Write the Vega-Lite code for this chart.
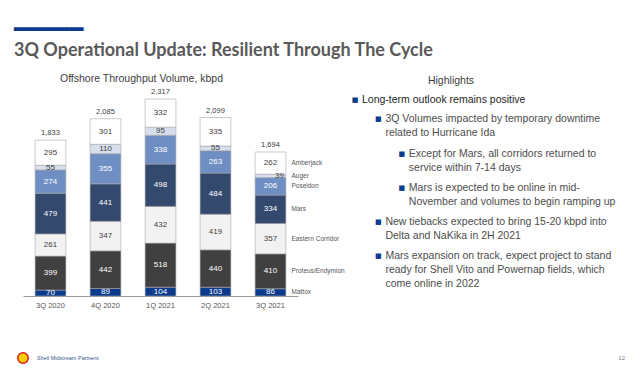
{
  "$schema": "https://vega.github.io/schema/vega-lite/v6.json",
  "background": "white",
  "padding": {"left": 14, "top": 18, "right": 5, "bottom": 5},
  "spacing": 40,
  "config": {"view": {"stroke": null}, "font": "Liberation Sans"},
  "title": {
    "text": "━━━━━",
    "subtitle": "3Q Operational Update: Resilient Through The Cycle",
    "anchor": "start",
    "frame": "group",
    "dx": -9,
    "font": "DejaVu Sans",
    "fontSize": 23,
    "lineHeight": 14,
    "fontWeight": "normal",
    "color": "#0b3b8c",
    "subtitleFont": "Lato",
    "subtitleFontSize": 18,
    "subtitleFontWeight": "bold",
    "subtitleColor": "#595959",
    "subtitlePadding": 0,
    "offset": 14
  },
  "datasets": {
    "volumes": [
      {"q": "3Q 2020", "seg": "Mattox", "k": 1, "v": 70},
      {"q": "3Q 2020", "seg": "Proteus/Endymion", "k": 2, "v": 399},
      {"q": "3Q 2020", "seg": "Eastern Corridor", "k": 3, "v": 261},
      {"q": "3Q 2020", "seg": "Mars", "k": 4, "v": 479},
      {"q": "3Q 2020", "seg": "Poseidon", "k": 5, "v": 274},
      {"q": "3Q 2020", "seg": "Auger", "k": 6, "v": 55},
      {"q": "3Q 2020", "seg": "Amberjack", "k": 7, "v": 295},
      {"q": "4Q 2020", "seg": "Mattox", "k": 1, "v": 89},
      {"q": "4Q 2020", "seg": "Proteus/Endymion", "k": 2, "v": 442},
      {"q": "4Q 2020", "seg": "Eastern Corridor", "k": 3, "v": 347},
      {"q": "4Q 2020", "seg": "Mars", "k": 4, "v": 441},
      {"q": "4Q 2020", "seg": "Poseidon", "k": 5, "v": 355},
      {"q": "4Q 2020", "seg": "Auger", "k": 6, "v": 110},
      {"q": "4Q 2020", "seg": "Amberjack", "k": 7, "v": 301},
      {"q": "1Q 2021", "seg": "Mattox", "k": 1, "v": 104},
      {"q": "1Q 2021", "seg": "Proteus/Endymion", "k": 2, "v": 518},
      {"q": "1Q 2021", "seg": "Eastern Corridor", "k": 3, "v": 432},
      {"q": "1Q 2021", "seg": "Mars", "k": 4, "v": 498},
      {"q": "1Q 2021", "seg": "Poseidon", "k": 5, "v": 338},
      {"q": "1Q 2021", "seg": "Auger", "k": 6, "v": 95},
      {"q": "1Q 2021", "seg": "Amberjack", "k": 7, "v": 332},
      {"q": "2Q 2021", "seg": "Mattox", "k": 1, "v": 103},
      {"q": "2Q 2021", "seg": "Proteus/Endymion", "k": 2, "v": 440},
      {"q": "2Q 2021", "seg": "Eastern Corridor", "k": 3, "v": 419},
      {"q": "2Q 2021", "seg": "Mars", "k": 4, "v": 484},
      {"q": "2Q 2021", "seg": "Poseidon", "k": 5, "v": 263},
      {"q": "2Q 2021", "seg": "Auger", "k": 6, "v": 55},
      {"q": "2Q 2021", "seg": "Amberjack", "k": 7, "v": 335},
      {"q": "3Q 2021", "seg": "Mattox", "k": 1, "v": 86},
      {"q": "3Q 2021", "seg": "Proteus/Endymion", "k": 2, "v": 410},
      {"q": "3Q 2021", "seg": "Eastern Corridor", "k": 3, "v": 357},
      {"q": "3Q 2021", "seg": "Mars", "k": 4, "v": 334},
      {"q": "3Q 2021", "seg": "Poseidon", "k": 5, "v": 206},
      {"q": "3Q 2021", "seg": "Auger", "k": 6, "v": 39},
      {"q": "3Q 2021", "seg": "Amberjack", "k": 7, "v": 262}
    ],
    "highlights": [
      {"indent": 0, "row": 0.1, "bullet": true, "text": "Long-term outlook remains positive"},
      {"indent": 1, "row": 1.45, "bullet": true, "text": "3Q Volumes impacted by temporary downtime"},
      {"indent": 1, "row": 2.45, "bullet": false, "text": "related to Hurricane Ida"},
      {"indent": 2, "row": 3.95, "bullet": true, "text": "Except for Mars, all corridors returned to"},
      {"indent": 2, "row": 4.95, "bullet": false, "text": "service within 7-14 days"},
      {"indent": 2, "row": 6.35, "bullet": true, "text": "Mars is expected to be online in mid-"},
      {"indent": 2, "row": 7.35, "bullet": false, "text": "November and volumes to begin ramping up"},
      {"indent": 1, "row": 8.8, "bullet": true, "text": "New tiebacks expected to bring 15-20 kbpd into"},
      {"indent": 1, "row": 9.8, "bullet": false, "text": "Delta and NaKika in 2H 2021"},
      {"indent": 1, "row": 11.2, "bullet": true, "text": "Mars expansion on track, expect project to stand"},
      {"indent": 1, "row": 12.2, "bullet": false, "text": "ready for Shell Vito and Powernap fields, which"},
      {"indent": 1, "row": 13.2, "bullet": false, "text": "come online in 2022"}
    ],
    "footer": [
      {"side": 0, "label": "Shell Midstream Partners"},
      {"side": 1, "label": "12"}
    ]
  },
  "vconcat": [
    {
      "spacing": 64,
      "bounds": "flush",
      "hconcat": [
        {
          "width": 275,
          "height": 197,
          "title": {"text": "Offshore Throughput Volume, kbpd", "fontSize": 10.5, "fontWeight": "normal", "color": "#404040", "dx": -19, "offset": 4},
          "data": {"name": "volumes"},
          "transform": [
            {"stack": "v", "groupby": ["q"], "sort": [{"field": "k", "order": "ascending"}], "as": ["y0", "y1"]},
            {"calculate": "(datum.y0 + datum.y1) / 2", "as": "ym"}
          ],
          "encoding": {
            "x": {
              "field": "q", "type": "nominal", "sort": null,
              "scale": {"paddingInner": 0.44, "paddingOuter": 0.22},
              "axis": {"title": null, "ticks": false, "domainColor": "#9a9a9a", "domainWidth": 1, "labelAngle": 0, "labelFontSize": 7.5, "labelColor": "#555555", "labelPadding": 5}
            }
          },
          "layer": [
            {
              "mark": {"type": "bar", "stroke": "#a6a6a6", "strokeWidth": 0.6},
              "encoding": {
                "y": {"field": "y0", "type": "quantitative", "scale": {"domain": [0, 2317], "nice": false}, "axis": null},
                "y2": {"field": "y1"},
                "color": {
                  "field": "seg", "type": "nominal", "legend": null,
                  "scale": {
                    "domain": ["Mattox", "Proteus/Endymion", "Eastern Corridor", "Mars", "Poseidon", "Auger", "Amberjack"],
                    "range": ["#0b3b8c", "#404040", "#f2f2f2", "#34496e", "#6f8fc4", "#d7dfec", "#ffffff"]
                  }
                }
              }
            },
            {
              "transform": [{"filter": "!(datum.q == '3Q 2021' && datum.seg == 'Auger')"}],
              "mark": {"type": "text", "fontSize": 8, "baseline": "middle"},
              "encoding": {
                "y": {"field": "ym", "type": "quantitative"},
                "text": {"field": "v", "type": "quantitative"},
                "color": {"condition": {"test": "indexof(['Eastern Corridor','Auger','Amberjack'], datum.seg) >= 0", "value": "#404040"}, "value": "#ffffff"}
              }
            },
            {
              "transform": [{"filter": "datum.q == '3Q 2021' && datum.seg == 'Auger'"}],
              "mark": {"type": "text", "fontSize": 8, "baseline": "middle", "dx": 9, "color": "#404040"},
              "encoding": {
                "y": {"field": "ym", "type": "quantitative"},
                "text": {"field": "v", "type": "quantitative"}
              }
            },
            {
              "transform": [{"filter": "datum.q == '3Q 2021'"}],
              "mark": {"type": "text", "fontSize": 6.5, "baseline": "middle", "align": "left", "dx": 21, "color": "#555555"},
              "encoding": {
                "y": {"field": "ym", "type": "quantitative"},
                "text": {"field": "seg", "type": "nominal"}
              }
            },
            {
              "transform": [{"filter": "datum.seg == 'Amberjack'"}],
              "mark": {"type": "text", "fontSize": 7.5, "baseline": "bottom", "dy": -3, "color": "#404040"},
              "encoding": {
                "y": {"field": "y1", "type": "quantitative"},
                "text": {"field": "y1", "type": "quantitative", "format": ","}
              }
            }
          ]
        },
        {
          "width": 178,
          "height": 197,
          "title": {"text": "Highlights", "fontSize": 10.5, "fontWeight": "normal", "color": "#404040", "offset": 9},
          "data": {"name": "highlights"},
          "encoding": {
            "x": {"field": "indent", "type": "quantitative", "scale": {"domain": [0, 7.6]}, "axis": null},
            "y": {"field": "row", "type": "quantitative", "scale": {"domain": [0, 14.07], "reverse": true}, "axis": null}
          },
          "layer": [
            {
              "mark": {"type": "text", "align": "left", "baseline": "middle", "fontSize": 10.5},
              "encoding": {
                "text": {"field": "text", "type": "nominal"},
                "color": {"condition": {"test": "datum.indent == 0", "value": "#262626"}, "value": "#4d4d4d"}
              }
            },
            {
              "transform": [{"filter": "datum.bullet"}],
              "mark": {"type": "text", "align": "center", "baseline": "middle", "dx": -7, "fontSize": 7, "font": "DejaVu Sans", "color": "#0b3b8c", "text": "■"}
            }
          ]
        }
      ]
    },
    {
      "width": 602,
      "height": 16,
      "data": {"name": "footer"},
      "encoding": {
        "x": {"field": "side", "type": "quantitative", "scale": {"domain": [0, 1]}, "axis": null}
      },
      "layer": [
        {
          "transform": [{"filter": "datum.side == 0"}],
          "mark": {"type": "point", "shape": "circle", "filled": true, "size": 110, "color": "#fbce07", "stroke": "#dd1d21", "strokeWidth": 1.5, "opacity": 1}
        },
        {
          "transform": [{"filter": "datum.side == 0"}],
          "mark": {"type": "text", "align": "left", "baseline": "middle", "dx": 14, "fontSize": 5.5, "color": "#3a5a8c"},
          "encoding": {"text": {"field": "label", "type": "nominal"}}
        },
        {
          "transform": [{"filter": "datum.side == 1"}],
          "mark": {"type": "text", "align": "right", "baseline": "middle", "fontSize": 6, "color": "#808080"},
          "encoding": {"text": {"field": "label", "type": "nominal"}}
        }
      ]
    }
  ]
}
